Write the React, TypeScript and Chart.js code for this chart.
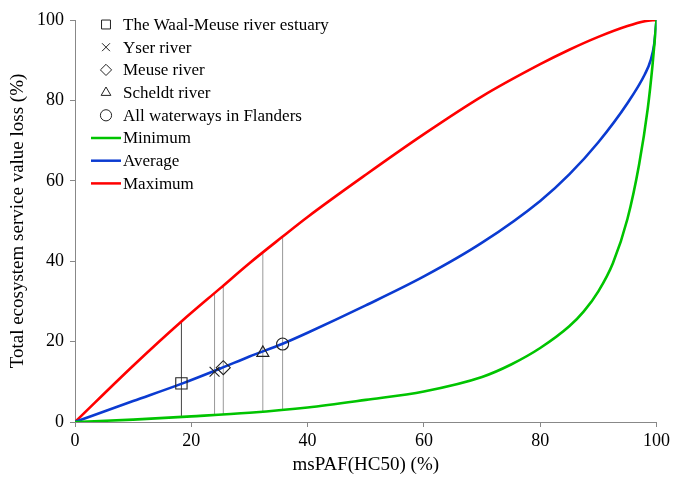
import React, { useEffect, useRef } from 'react';
import { Chart, registerables } from 'chart.js';
import { drawPoint } from 'chart.js/helpers';

Chart.register(...registerables);

// Curves
const minX = [0, 10, 20, 30, 40, 50, 60, 70, 75, 80, 85, 87.5, 90, 92.5, 95, 97, 98.5, 99.3, 100];
const minY = [0, 0.6, 1.4, 2.3, 3.6, 5.5, 7.6, 11.2, 14.3, 18.4, 23.8, 27.5, 32.5, 39.5, 50.5, 64, 78, 88.5, 100];

const avgX = [0, 10, 18.5, 25, 30, 35.6, 40, 50, 60, 70, 80, 85, 90, 95, 98, 99, 99.6, 100];
const avgY = [0, 5.2, 9.6, 13.3, 16.3, 19.4, 22.2, 29, 36.2, 44.6, 55, 61.6, 69.6, 79.3, 86.5, 90, 94, 100];

const maxX = [0, 10, 18.3, 25, 30, 35.6, 40, 50, 60, 70, 80, 85, 90, 95, 98, 100];
const maxY = [0, 14, 25, 33.3, 39.5, 46, 51, 61.5, 71.6, 81, 89, 92.6, 95.8, 98.5, 99.7, 100];

// River points
const riverNames = ['The Waal-Meuse river estuary', 'Yser river', 'Meuse river', 'Scheldt river', 'All waterways in Flanders'];
const riverX = [18.3, 24.0, 25.5, 32.3, 35.7];
const riverAvg = [9.6, 12.5, 13.5, 17.2, 19.4];
const riverMax = [25.0, 31.8, 33.9, 42.0, 46.0];
const riverMin = [1.3, 1.8, 1.9, 2.5, 3.0];
const riverStyles = ['rect', 'crossRot', 'rectRot', 'triangle', 'circle'];

const curveNames = ['Minimum', 'Average', 'Maximum'];
const curveColors = ['#00c400', '#0b3bd1', '#ff0000'];

const xTicks = [0, 20, 40, 60, 80, 100];
const yTicks = [0, 20, 40, 60, 80, 100];

const FONT = "'Liberation Serif', 'Times New Roman', serif";

const legendPlugin = {
  id: 'customLegend',
  afterDraw(chart: any) {
    const ctx = chart.ctx;
    ctx.save();
    const x0 = 106;
    const y0 = 24.5;
    const dy = 22.7;
    ctx.font = `17px ${FONT}`;
    ctx.textBaseline = 'middle';
    ctx.textAlign = 'left';
    riverNames.forEach((name, i) => {
      const y = y0 + i * dy;
      ctx.strokeStyle = '#222';
      ctx.fillStyle = 'rgba(0,0,0,0)';
      ctx.lineWidth = 1;
      drawPoint(ctx, { pointStyle: riverStyles[i] as any, radius: i === 0 ? 6.3 : 5.6, rotation: 0, borderWidth: 1 }, x0, y);
      ctx.fillStyle = '#000';
      ctx.fillText(name, 123, y + 1);
    });
    curveNames.forEach((name, i) => {
      const y = y0 + (riverNames.length + i) * dy;
      ctx.strokeStyle = curveColors[i];
      ctx.lineWidth = 2.5;
      ctx.beginPath();
      ctx.moveTo(91, y);
      ctx.lineTo(121, y);
      ctx.stroke();
      ctx.fillStyle = '#000';
      ctx.fillText(name, 123, y + 1);
    });
    ctx.restore();
  },
};

export default function App() {
  const ref = useRef<HTMLCanvasElement | null>(null);

  useEffect(() => {
    document.body.style.margin = '0';
    if (!ref.current) return;

    const verticals = riverX.map((x, i) => ({
      type: 'line' as const,
      label: 'v' + i,
      data: [{ x, y: riverMin[i] }, { x, y: riverMax[i] }],
      borderColor: i === 0 ? '#444' : '#999',
      borderWidth: 1,
      pointRadius: 0,
      order: 3,
    }));

    const curves = [
      { xs: minX, ys: minY },
      { xs: avgX, ys: avgY },
      { xs: maxX, ys: maxY },
    ].map((c, i) => ({
      type: 'line' as const,
      label: curveNames[i],
      data: c.xs.map((x, j) => ({ x, y: c.ys[j] })),
      borderColor: curveColors[i],
      borderWidth: 2.6,
      pointRadius: 0,
      cubicInterpolationMode: 'monotone' as const,
      order: 2,
    }));

    const markers = riverX.map((x, i) => ({
      type: 'scatter' as const,
      label: riverNames[i],
      data: [{ x, y: riverAvg[i] }],
      pointStyle: riverStyles[i],
      pointRadius: i === 0 ? 8 : i === 4 ? 6 : 7,
      pointBorderColor: '#222',
      pointBackgroundColor: 'rgba(0,0,0,0)',
      borderColor: '#222',
      backgroundColor: 'rgba(0,0,0,0)',
      pointBorderWidth: 1.1,
      order: 1,
    }));

    const chart = new Chart(ref.current, {
      type: 'line',
      data: { datasets: [...verticals, ...curves, ...markers] as any },
      options: {
        animation: false,
        responsive: false,
        layout: { padding: { top: 20, right: 16, left: 0, bottom: 0 } },
        plugins: { legend: { display: false }, tooltip: { enabled: false } },
        scales: {
          x: {
            type: 'linear',
            min: 0,
            max: 100,
            afterBuildTicks: (s: any) => { s.ticks = xTicks.map((v) => ({ value: v })); },
            afterFit: (s: any) => { s.height = 57; },
            ticks: { color: '#000', font: { family: FONT, size: 18 }, padding: 3 },
            grid: { drawOnChartArea: false, tickLength: 5, color: '#888' },
            border: { color: '#888', width: 1 },
            title: { display: true, text: 'msPAF(HC50) (%)', color: '#000', font: { family: FONT, size: 19 }, padding: { top: 0, bottom: 3 } },
          },
          y: {
            type: 'linear',
            min: 0,
            max: 100,
            afterBuildTicks: (s: any) => { s.ticks = yTicks.map((v) => ({ value: v })); },
            afterFit: (s: any) => { s.width = 75; },
            ticks: { color: '#000', font: { family: FONT, size: 18 }, padding: 6 },
            grid: { drawOnChartArea: false, tickLength: 5, color: '#888' },
            border: { color: '#888', width: 1 },
            title: { display: true, text: 'Total ecosystem service value loss (%)', color: '#000', font: { family: FONT, size: 19 }, padding: { top: 7, bottom: 0 } },
          },
        },
      },
      plugins: [legendPlugin],
    });

    return () => chart.destroy();
  }, []);

  return <canvas ref={ref} width={673} height={479} style={{ display: 'block' }} />;
}
